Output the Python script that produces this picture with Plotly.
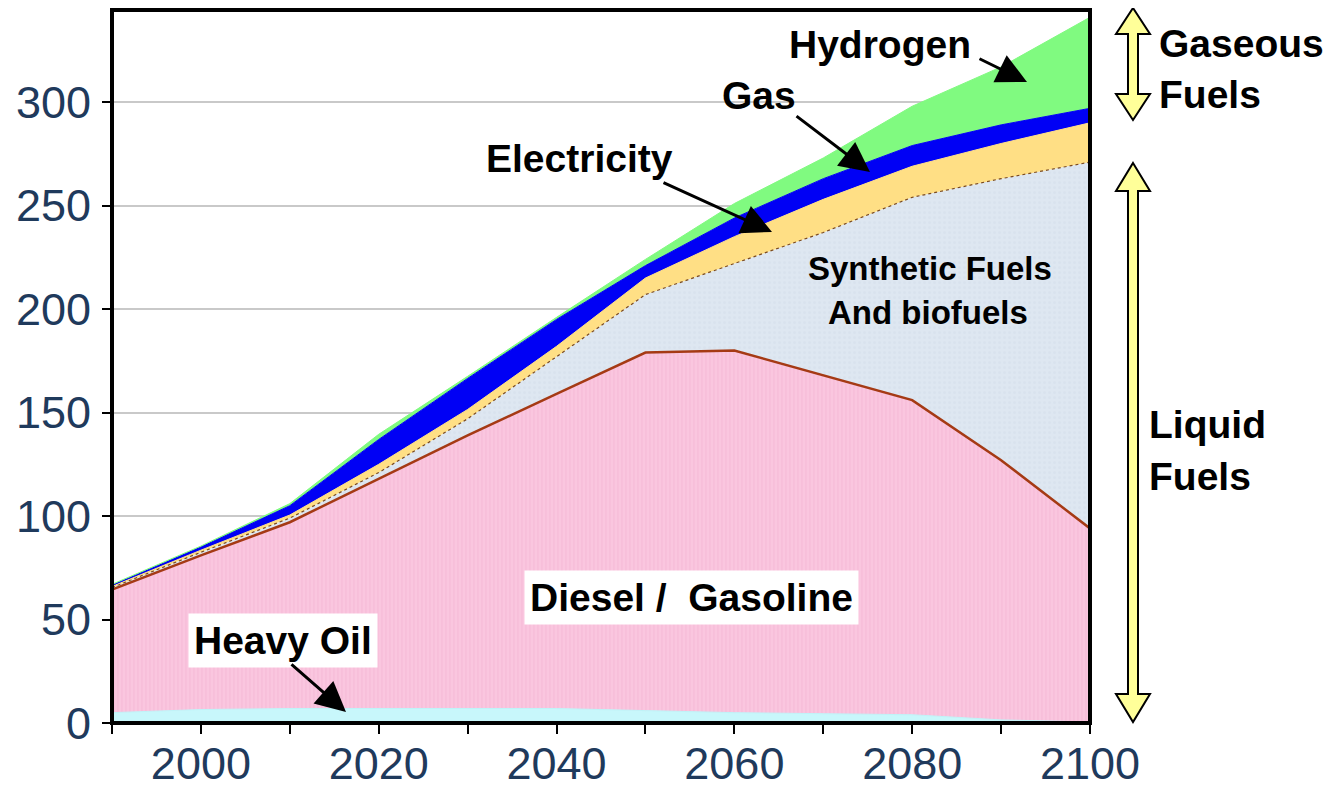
import plotly.graph_objects as go

# ---------------- data ----------------
years = [1990, 2000, 2010, 2020, 2030, 2040, 2050, 2060, 2070, 2080, 2090, 2100]
heavy_oil = [5, 6.5, 7, 7, 7, 7, 6, 5, 4.5, 4, 1.5, 0.5]
diesel_gasoline = [59.5, 74.5, 90, 111, 132, 152, 173, 175, 163.5, 152, 125.5, 93.5]
synthetic_biofuels = [1, 1.5, 2, 3, 8, 18, 28, 42, 69, 98, 136, 177]
gas = [0.5, 1, 1.5, 4, 4.5, 5, 8, 13, 16, 15, 17, 19]
electricity = [0.5, 1.5, 4.5, 12, 15, 13, 6, 9, 10, 10, 9, 7]
hydrogen = [0.5, 0.5, 1, 2.5, 1, 1, 3, 7, 10, 19, 28, 44]

y_ticks = [0, 50, 100, 150, 200, 250, 300]
x_ticks = [2000, 2020, 2040, 2060, 2080, 2100]

# ---------------- layout geometry ----------------
OFF = 8                      # default page body margin
W, H = 1333 - OFF, 791 - OFF  # figure size
L, R, T, B = 112, 1090, 10, 723  # plot area in page pixels (reference)


def px(x):
    return (x - L) / (R - L)


def py(y):
    return (B - y) / (B - T)


FONT = "Liberation Sans, Arial, sans-serif"

fig = go.Figure()

fig.add_trace(go.Scatter(x=years, y=heavy_oil, stackgroup="s", mode="lines",
                         line=dict(color="#BFF3F8", width=1), fillcolor="#C8F7FB",
                         name="Heavy Oil"))
fig.add_trace(go.Scatter(x=years, y=diesel_gasoline, stackgroup="s", mode="lines",
                         line=dict(color="#A53A14", width=2.5), fillcolor="#FAC3DD",
                         fillpattern=dict(shape="|", bgcolor="#FAC6DF", fgcolor="#F3B3D2",
                                          size=4, solidity=0.35),
                         name="Diesel / Gasoline"))
fig.add_trace(go.Scatter(x=years, y=synthetic_biofuels, stackgroup="s", mode="lines",
                         line=dict(color="#7A4A20", width=1.2, dash="dot"), fillcolor="#DDE6F0",
                         fillpattern=dict(shape=".", bgcolor="#DEE7F1", fgcolor="#D3DDE9",
                                          size=5, solidity=0.3),
                         name="Synthetic Fuels and biofuels"))
fig.add_trace(go.Scatter(x=years, y=gas, stackgroup="s", mode="lines",
                         line=dict(color="#FFDF85", width=1), fillcolor="#FFDF85",
                         name="Gas"))
fig.add_trace(go.Scatter(x=years, y=electricity, stackgroup="s", mode="lines",
                         line=dict(color="#0000F5", width=1), fillcolor="#0000F5",
                         name="Electricity"))
fig.add_trace(go.Scatter(x=years, y=hydrogen, stackgroup="s", mode="lines",
                         line=dict(color="#80FA80", width=1), fillcolor="#80FA80",
                         name="Hydrogen"))

tick_font = dict(family=FONT, size=45, color="#1F3A5C")

fig.update_layout(
    width=W, height=H,
    margin=dict(l=L - OFF, r=W - (R - OFF), t=T - OFF, b=H - (B - OFF), pad=0,
                autoexpand=False),
    paper_bgcolor="white", plot_bgcolor="white",
    showlegend=False,
    xaxis=dict(range=[1990, 2100], tickvals=x_ticks, ticks="", showgrid=False,
               zeroline=False, showline=False, tickfont=tick_font,
               ticklabelstandoff=10, automargin=False,
               minor=dict(tick0=1990, dtick=10, ticks="outside", ticklen=10,
                          tickwidth=2, tickcolor="black", showgrid=False)),
    yaxis=dict(range=[0, 344.5], tickvals=y_ticks, ticks="outside", ticklen=9,
               tickwidth=2, tickcolor="black", showgrid=True, gridcolor="#C9C9C9",
               gridwidth=1.5, zeroline=False, showline=False,
               tickfont=tick_font, ticklabelstandoff=2, automargin=False),
)

ann = []


def label(text, x, y, size=39, xanchor="center", bg=None, pad=0):
    d = dict(text=text, x=px(x), y=py(y), xref="paper", yref="paper",
             showarrow=False, xanchor=xanchor, yanchor="middle",
             font=dict(family=FONT, size=size, color="black", weight="bold"))
    if bg:
        d.update(bgcolor=bg, borderpad=pad)
    ann.append(d)


def arrow(tail, tip):
    ann.append(dict(text="", x=px(tip[0]), y=py(tip[1]), xref="paper", yref="paper",
                    showarrow=True, ax=tail[0] - tip[0], ay=tail[1] - tip[1],
                    axref="pixel", ayref="pixel", arrowhead=2, arrowsize=2,
                    arrowwidth=3, arrowcolor="black", standoff=0, startstandoff=0))


label("Hydrogen", 880, 45)
label("Gas", 759, 95)
label("Electricity", 579, 158)
label("Synthetic Fuels", 930, 268, size=33)
label("And biofuels", 928, 312, size=33)
label("Diesel /\u00a0\u00a0Gasoline", 691, 597, bg="white", pad=5)
label("Heavy Oil", 283, 640, bg="white", pad=5)
label("Gaseous", 1157, 43, xanchor="left")
label("Fuels", 1157, 94, xanchor="left")
label("Liquid", 1147, 425, xanchor="left")
label("Fuels", 1147, 476, xanchor="left")

arrow((978, 58), (1027, 82))
arrow((795, 115), (870, 172))
arrow((662, 182), (772, 232))
arrow((290, 663), (346, 712))

fig.update_layout(annotations=ann)


def double_arrow(xc, y_top, y_bot, head=28, hw=17, sw=5):
    pts = [(xc, y_top), (xc + hw, y_top + head), (xc + sw, y_top + head),
           (xc + sw, y_bot - head), (xc + hw, y_bot - head), (xc, y_bot),
           (xc - hw, y_bot - head), (xc - sw, y_bot - head), (xc - sw, y_top + head),
           (xc - hw, y_top + head)]
    path = "M " + " L ".join(f"{px(a):.5f},{py(b):.5f}" for a, b in pts) + " Z"
    return dict(type="path", path=path, xref="paper", yref="paper",
                fillcolor="#FFFF99", line=dict(color="black", width=2), layer="above")


frame = dict(type="rect", xref="paper", yref="paper", x0=0, x1=1, y0=0, y1=1,
             line=dict(color="black", width=4), fillcolor="rgba(0,0,0,0)", layer="above")

fig.update_layout(shapes=[frame,
                          double_arrow(1133, 8, 120, head=26),
                          double_arrow(1133, 163, 722)])

fig.write_html("out.html")
